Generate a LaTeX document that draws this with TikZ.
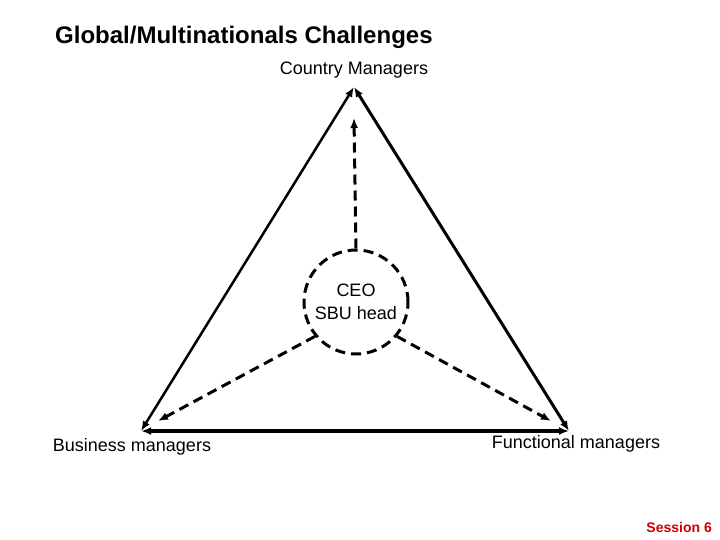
\documentclass[tikz,border=0pt]{standalone}
\usepackage{fontspec}
\setmainfont{Liberation Sans}
\usetikzlibrary{arrows.meta}
\definecolor{sessred}{RGB}{204,0,0}
\begin{document}
\begin{tikzpicture}[x=1bp,y=-1bp,
  lbl/.style={inner sep=0pt,font=\fontsize{18bp}{21bp}\selectfont},
  side/.style={{Latex[length=10bp,width=8bp]}-{Latex[length=10bp,width=8bp]}},
  dasharrow/.style={line width=3bp,dash pattern=on 10bp off 6bp,-{Latex[length=10bp,width=8bp]}}]
\useasboundingbox (0,0) rectangle (720,540);
\node[anchor=west,inner sep=0pt,font=\fontsize{24bp}{28bp}\selectfont\bfseries] (title) at (55,37) {Global/Multinationals Challenges};
\coordinate (apex) at (354,87);
\coordinate (bl) at (141,431);
\coordinate (br) at (569,431);
\node[lbl] (cm) at (354,70) {Country Managers};
\node[lbl] (bm) at (132,447) {Business managers};
\node[lbl] (fm) at (576,444) {Functional managers};
\node[circle,draw,line width=3bp,dash pattern=on 10bp off 6bp,minimum size=104bp,inner sep=0pt,align=center,font=\fontsize{18bp}{23bp}\selectfont] (ceo) at (356,302) {CEO\\SBU head};
\node[anchor=east,inner sep=0pt,text=sessred,font=\fontsize{14bp}{16bp}\selectfont\bfseries] (sess) at (712,527) {Session 6};
\draw[side,line width=2.5bp] (apex) -- (bl);
\draw[side,line width=3bp] (apex) -- (br);
\draw[side,line width=4bp] (bl) -- (br);
\coordinate (up) at (354,118);
\coordinate (dl) at (158,421);
\coordinate (dr) at (551,421);
\draw[dasharrow] (ceo.north) -- (up);
\draw[dasharrow] (ceo.220) -- (dl);
\draw[dasharrow] (ceo.-40) -- (dr);
\end{tikzpicture}
\end{document}
